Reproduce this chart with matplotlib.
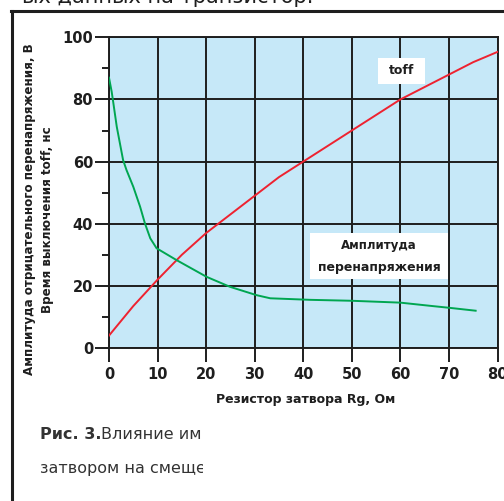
import matplotlib
matplotlib.use("Agg")
import matplotlib.pyplot as plt
from matplotlib.patches import Rectangle
from matplotlib.lines import Line2D
from matplotlib.transforms import Bbox, TransformedBbox

# Gate resistor, Ohm
rg_toff = [0, 5, 10, 15, 20, 25, 30, 35, 40, 45, 50, 55, 60, 65, 70, 75, 80]
# Turn-off time toff, ns
toff = [4, 13.5, 22, 30, 37, 43, 49, 55, 60, 65, 70, 75, 80, 84, 88, 92, 95.3]

rg_over = [0, 0.55, 0.9, 1.6, 2.9, 3.6, 5, 6.4, 7.4, 8.5, 9.8, 13.9, 20.1,
           24.9, 30.4, 33.2, 41.5, 50, 60, 66.6, 70.3, 75.5]
# Negative overvoltage amplitude, V
overvolt = [87, 82.5, 78.8, 71.2, 60.5, 57.3, 51.9, 45.5, 40.1, 35.3, 32.1,
            28.3, 22.9, 19.7, 17.0, 16.0, 15.5, 15.2, 14.6, 13.5, 12.9, 12.0]

x_ticks = [0, 10, 20, 30, 40, 50, 60, 70, 80]
y_ticks = [0, 20, 40, 60, 80, 100]
y_minor = [10, 30, 50, 70, 90]

W, H = 504, 501
fig = plt.figure(figsize=(W / 100, H / 100), dpi=100)
fig.patch.set_facecolor("white")


def fx(x):
    return x / W


def fy(y):
    return 1 - y / H


ink = "#1e1e1e"
bold = dict(fontweight="bold", color=ink, family="DejaVu Sans")

# page frame
fig.add_artist(Line2D([fx(12), fx(12)], [fy(11), fy(H + 5)], lw=2.2, color=ink,
                      transform=fig.transFigure))
fig.add_artist(Line2D([fx(11), fx(W + 5)], [fy(11), fy(11)], lw=2.2, color=ink,
                      transform=fig.transFigure))

# tail of the preceding paragraph
fig.text(fx(22), fy(3), "ых данных на транзистор.", fontsize=15, color=ink,
         va="baseline", ha="left")

ax = fig.add_axes([fx(109), fy(348), fx(497.5) - fx(109), fy(37.3) - fy(348)])
ax.set_facecolor("#c6e8f8")
ax.set_xlim(0, 80)
ax.set_ylim(0, 100)
ax.set_xticks(x_ticks)
ax.set_yticks(y_ticks)
ax.set_yticks(y_minor, minor=True)
ax.grid(True, which="major", color=ink, lw=1.4)
ax.set_axisbelow(True)
for s in ax.spines.values():
    s.set_color(ink)
    s.set_linewidth(1.4)
ax.tick_params(axis="both", which="major", direction="out", length=10,
               width=1.4, color=ink, labelsize=10.5)
ax.tick_params(axis="y", which="major", pad=1.5)
ax.tick_params(axis="x", which="major", pad=4)
ax.tick_params(axis="y", which="minor", direction="out", length=5,
               width=1.4, color=ink)
for lab in ax.get_xticklabels() + ax.get_yticklabels():
    lab.set_fontweight("bold")
    lab.set_color(ink)

ax.plot(rg_toff, toff, color="#ee2230", lw=1.4, zorder=3)
ax.plot(rg_over, overvolt, color="#00a651", lw=1.4, zorder=3)

# curve labels on white patches
fig.add_artist(Rectangle((fx(378), fy(84)), fx(425) - fx(378), fy(58) - fy(84),
                         transform=fig.transFigure, facecolor="white",
                         edgecolor="none", zorder=4))
fig.add_artist(Rectangle((fx(310), fy(279)), fx(448) - fx(310), fy(233) - fy(279),
                         transform=fig.transFigure, facecolor="white",
                         edgecolor="none", zorder=4))
fig.text(fx(402), fy(71), "toff", fontsize=9, ha="center", va="center",
         zorder=5, **bold)
fig.text(fx(379), fy(245), "Амплитуда", fontsize=8.5, ha="center", va="center",
         zorder=5, **bold)
fig.text(fx(379), fy(267), "перенапряжения", fontsize=9, ha="center",
         va="center", zorder=5, **bold)

# axis titles
fig.text(fx(30), fy(209), "Амплитуда отрицательного перенапряжения, В",
         rotation=90, fontsize=8.6, ha="center", va="center", **bold)
fig.text(fx(48), fy(220), "Время выключения toff, нс",
         rotation=90, fontsize=8.6, ha="center", va="center", **bold)
fig.text(fx(306), fy(400), "Резистор затвора Rg, Ом", fontsize=9,
         ha="center", va="center", **bold)

# figure caption, clipped by the page column
clip = TransformedBbox(Bbox.from_extents(0, 0, fx(203), 1), fig.transFigure)
c1 = fig.text(fx(40), fy(439), "Рис. 3.", fontsize=11.5, fontweight="bold",
              color="#333333", va="baseline", ha="left")
c1b = fig.text(fx(101), fy(439), "Влияние импульсных", fontsize=11.5,
               color="#333333", va="baseline", ha="left")
c2 = fig.text(fx(40), fy(473), "затвором на смещение", fontsize=11.5,
              color="#333333", va="baseline", ha="left")
for t in (c1, c1b, c2):
    t.set_clip_box(clip)
    t.set_clip_on(True)

fig.savefig("out.png", dpi=100, facecolor="white")
